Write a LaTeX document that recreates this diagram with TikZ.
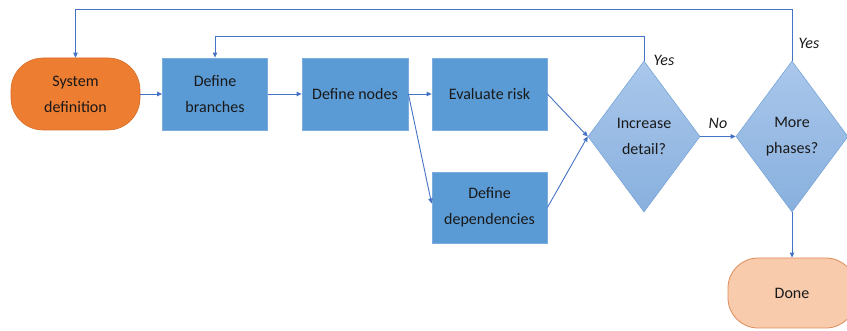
\documentclass[tikz,border=0pt]{standalone}
\usepackage{fontspec}
\setmainfont{Carlito}
\usetikzlibrary{shapes.geometric,arrows.meta,calc}
\definecolor{termorange}{RGB}{237,125,49}
\definecolor{termedge}{RGB}{214,110,40}
\definecolor{doneorange}{RGB}{248,203,173}
\definecolor{doneedge}{RGB}{222,140,90}
\definecolor{procblue}{RGB}{91,155,213}
\definecolor{procedge}{RGB}{125,172,222}
\definecolor{decitop}{RGB}{170,199,235}
\definecolor{decibot}{RGB}{136,176,222}
\definecolor{deciedge}{RGB}{120,165,215}
\definecolor{linkblue}{RGB}{68,114,196}
\definecolor{inktext}{RGB}{25,25,25}

\tikzset{
  txt/.style={font=\fontsize{16}{26}\selectfont, text=inktext, align=center, inner sep=0pt},
  terminal/.style={txt, rounded corners=32pt, fill=termorange, draw=termedge, line width=0.6pt},
  finish/.style={txt, rounded corners=30pt, fill=doneorange, draw=doneedge, line width=0.8pt},
  procbox/.style={txt, rectangle, fill=procblue, draw=procedge, line width=0.8pt},
  decision/.style={txt, diamond, top color=decitop, bottom color=decibot, draw=deciedge,
    line width=0.6pt, minimum width=112pt, minimum height=151pt},
  link/.style={draw=linkblue, line width=0.9pt, -{Triangle[length=5pt,width=4.5pt]}},
  plainlink/.style={draw=linkblue, line width=0.9pt},
  answer/.style={font=\fontsize{16}{20}\selectfont\itshape, text=inktext, inner sep=0pt}
}

\begin{document}
\begin{tikzpicture}[x=1pt,y=-1pt]
\useasboundingbox (0,0) rectangle (847,331);

% process chain
\node[terminal, minimum width=129pt, minimum height=72pt] (sys) at (75.5,94) {System\\definition};
\node[procbox, minimum width=105pt, minimum height=72pt] (branches) at (215,94) {Define\\branches};
\node[procbox, minimum width=106pt, minimum height=72pt] (nodes) at (355,94) {Define nodes};
\node[procbox, minimum width=115pt, minimum height=72pt] (risk) at (489.5,94) {Evaluate risk};
\node[procbox, minimum width=115pt, minimum height=71pt] (deps) at (489.5,207.5) {Define\\dependencies};

% decisions
\node[decision] (detail) at (644,136.5) {Increase\\detail?};
\node[decision] (phases) at (792,136.5) {More\\phases?};

% end
\node[finish, minimum width=128pt, minimum height=70pt] (done) at (792,293) {Done};

% forward links
\draw[link] (sys.east) -- (branches.west);
\draw[link] (branches.east) -- (nodes.west);
\draw[link] (nodes.east) -- (risk.west);
\draw[link] (nodes.east) -- ([yshift=4pt]deps.west);
\draw[link] (risk.east) -- (detail.west);
\draw[link] (deps.east) -- (detail.west);
\draw[link] (detail.east) -- node[answer, above=7pt] {No} (phases.west);
\draw[link] (phases.south) -- (done.north);

% feedback loops
\coordinate (outerTop) at (792,9.5);
\coordinate (innerTop) at (644,36);
\draw[link] (phases.north) -- (outerTop) -| (sys.north);
\draw[link] (detail.north) -- (innerTop) -| (branches.north);

% loop labels
\node[answer] (yesInner) at (664,60) {Yes};
\node[answer] (yesOuter) at (809,43) {Yes};
\end{tikzpicture}
\end{document}
